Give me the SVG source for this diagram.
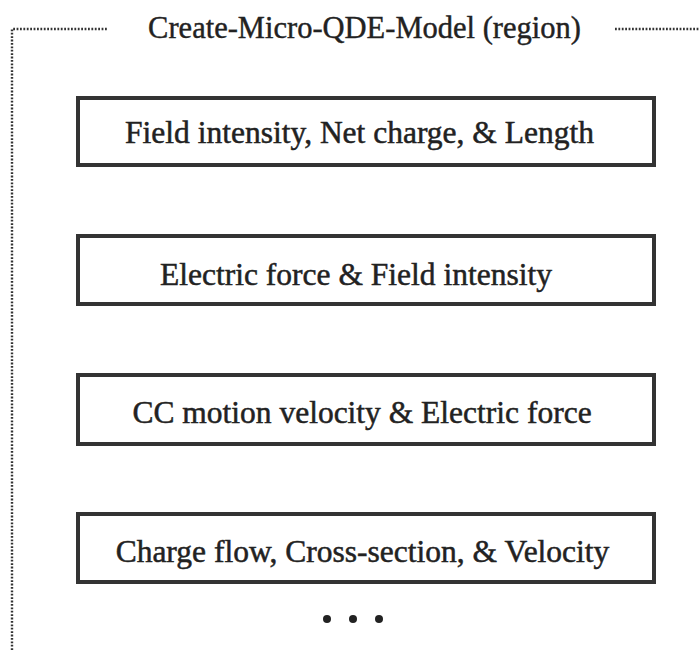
<svg xmlns="http://www.w3.org/2000/svg" width="699" height="650" viewBox="0 0 699 650">
<style>
.frame{fill:none;stroke:#333;stroke-width:2.4;stroke-dasharray:1.8 1.6}
.box rect{fill:#fff;stroke:#333;stroke-width:4}
.lbl{font-family:"Liberation Serif","Times New Roman",serif;font-size:31.5px;fill:#222;stroke:#222;stroke-width:0.5;text-anchor:middle}
.title{font-family:"Liberation Serif","Times New Roman",serif;font-size:30.5px;fill:#222;stroke:#222;stroke-width:0.4;text-anchor:middle}
.dot{fill:#222}
</style>
<rect width="699" height="650" fill="#fff"/>
<g id="region">
<path class="frame" d="M12 650 V29 H107 M615 29 H699"/>
<text class="title" x="364.5" y="38">Create-Micro-QDE-Model (region)</text>
</g>
<g id="n1" class="box"><rect x="78" y="98" width="576" height="67"/><text class="lbl" x="359.5" y="143">Field intensity, Net charge, &amp; Length</text></g>
<g id="n2" class="box"><rect x="78" y="236" width="576" height="68"/><text class="lbl" x="356" y="285">Electric force &amp; Field intensity</text></g>
<g id="n3" class="box"><rect x="78" y="375" width="576" height="69"/><text class="lbl" x="362" y="423">CC motion velocity &amp; Electric force</text></g>
<g id="n4" class="box"><rect x="78" y="514" width="576" height="68"/><text class="lbl" x="362.5" y="562">Charge flow, Cross-section, &amp; Velocity</text></g>
<g id="connectors"></g>
<g id="ellipsis"><circle class="dot" cx="327" cy="619" r="4"/><circle class="dot" cx="353" cy="619" r="4"/><circle class="dot" cx="379" cy="619" r="4"/></g>
</svg>
